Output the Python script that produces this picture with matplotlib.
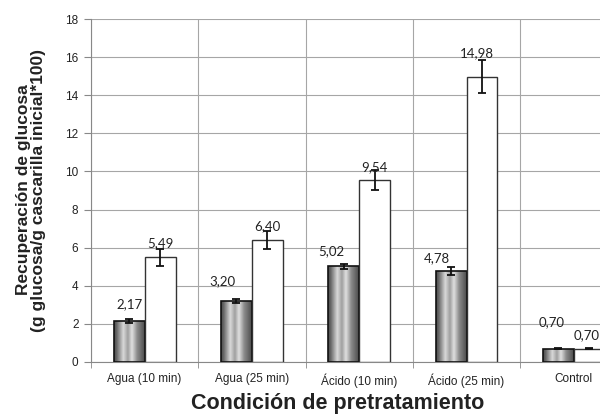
import numpy as np
import matplotlib.pyplot as plt

plt.rcParams['font.family'] = ['Liberation Sans', 'DejaVu Sans']

# data
conditions = ['Agua (10 min)', 'Agua (25 min)', 'Ácido (10 min)', 'Ácido (25 min)', 'Control']
serie_gris = [2.17, 3.20, 5.02, 4.78, 0.70]
err_gris = [0.10, 0.10, 0.13, 0.20, 0.02]
serie_blanca = [5.49, 6.40, 9.54, 14.98, 0.70]
err_blanca = [0.46, 0.45, 0.52, 0.87, 0.02]
yticks = [0, 2, 4, 6, 8, 10, 12, 14, 16, 18]

# label nudges (pixels) as placed in the original
off_gris = [(0, 16), (-14, 20), (-12, 15), (-14, 13), (-7, 27)]
off_blanca = [(0, 14), (0, 14), (0, 13), (-5, 23), (-3, 14)]

fig = plt.figure(figsize=(6, 4.17), dpi=100)
ax = fig.add_axes([91 / 600, 1 - 362 / 417, (627.5 - 91) / 600, (362 - 19) / 417])

x = np.arange(len(conditions))
w = 0.288

# metallic gradient for the grey bars
stops_x = [0, 0.08, 0.3, 0.45, 0.58, 0.75, 0.92, 1]
stops_v = [0.30, 0.40, 0.85, 0.62, 0.88, 0.55, 0.38, 0.30]
grad = np.interp(np.linspace(0, 1, 64), stops_x, stops_v).reshape(1, -1)

bars_g = ax.bar(x - w / 2, serie_gris, w, facecolor='none', edgecolor='#111111',
                linewidth=1.2, zorder=3)
for b in bars_g:
    im = ax.imshow(grad, cmap='gray', vmin=0, vmax=1, aspect='auto',
                   extent=[b.get_x(), b.get_x() + b.get_width(), 0, b.get_height()],
                   zorder=2.5, interpolation='bilinear')
    im.set_clip_path(b)

ax.bar(x + w / 2, serie_blanca, w, facecolor='white', edgecolor='#333333',
       linewidth=1.0, zorder=3)

ax.errorbar(x - w / 2, serie_gris, yerr=err_gris, fmt='none', ecolor='#111111',
            elinewidth=1.3, capsize=3, capthick=1.3, zorder=4)
ax.errorbar(x + w / 2, serie_blanca, yerr=err_blanca, fmt='none', ecolor='#111111',
            elinewidth=1.3, capsize=3, capthick=1.3, zorder=4)

for xi, v, (dx, dy) in zip(x - w / 2, serie_gris, off_gris):
    ax.annotate(f'{v:.2f}'.replace('.', ','), (xi, v), xytext=(dx, dy),
                textcoords='offset pixels', ha='center', va='center',
                fontsize=9.5, family=['Lato', 'DejaVu Sans'], color='#222222', zorder=5)
for xi, v, (dx, dy) in zip(x + w / 2, serie_blanca, off_blanca):
    ax.annotate(f'{v:.2f}'.replace('.', ','), (xi, v), xytext=(dx, dy),
                textcoords='offset pixels', ha='center', va='center',
                fontsize=9.5, family=['Lato', 'DejaVu Sans'], color='#222222', zorder=5)

ax.set_xlim(-0.5, len(conditions) - 0.5)
ax.set_ylim(0, 18)
ax.set_yticks(yticks)
ax.set_xticks(x)
ax.set_xticklabels(conditions, fontsize=8.5, color='#222222')
ax.set_xticks(np.arange(len(conditions) + 1) - 0.5, minor=True)
ax.tick_params(axis='x', which='major', length=0, pad=8)
ax.tick_params(axis='x', which='minor', length=4, color='#888888')
ax.tick_params(axis='y', length=5, color='#888888', labelsize=8.5, labelcolor='#222222', pad=4)

ax.grid(True, axis='y', color='#a6a6a6', linewidth=0.8, zorder=0)
ax.grid(True, axis='x', which='minor', color='#a6a6a6', linewidth=0.8, zorder=0)
ax.set_axisbelow(True)
for s in ['top', 'right']:
    ax.spines[s].set_visible(False)
for s in ['left', 'bottom']:
    ax.spines[s].set_color('#888888')
    ax.spines[s].set_linewidth(0.8)

fig.text(31 / 600, 1 - 190 / 417, 'Recuperación de glucosa\n(g glucosa/g cascarilla inicial*100)',
         rotation=90, ha='center', va='center', multialignment='center',
         fontsize=12.5, fontweight='bold', color='#222222', linespacing=1.05)
fig.text(338 / 600, 1 - 403 / 417, 'Condición de pretratamiento', ha='center', va='center',
         fontsize=15.5, fontweight='bold', color='#222222')

fig.savefig('out.png', dpi=100)
